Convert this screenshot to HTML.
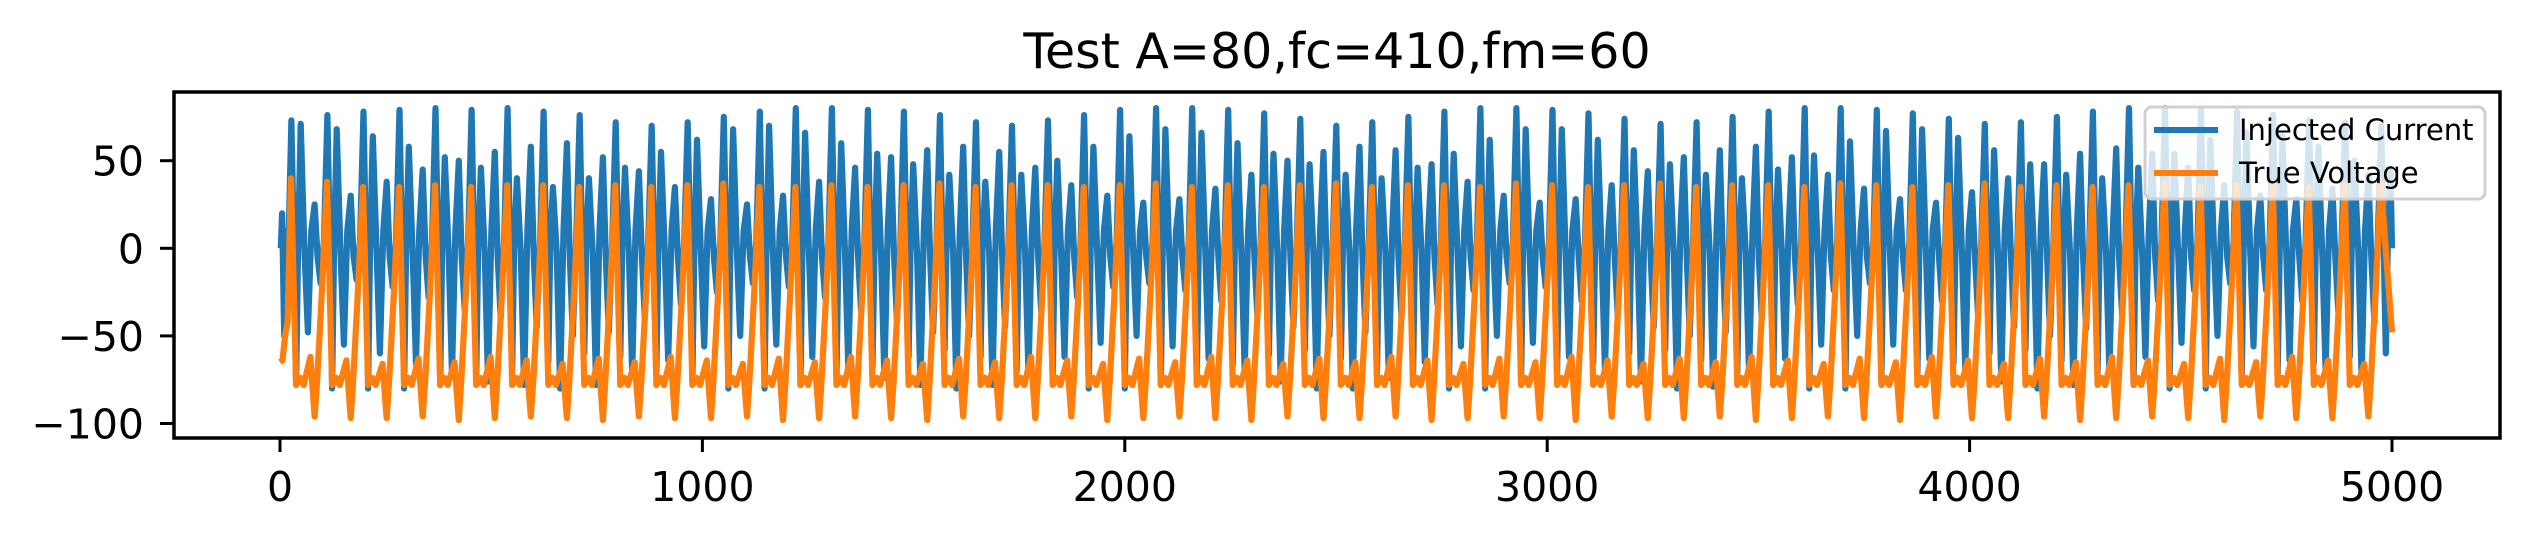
<!DOCTYPE html>
<html><head><meta charset="utf-8"><title>Test A=80,fc=410,fm=60</title>
<style>html,body{margin:0;padding:0;background:#fff;}svg{display:block;font-family:"DejaVu Sans","Liberation Sans",sans-serif;}</style>
</head><body>
<svg id="chart" width="2528" height="540" viewBox="0 0 2528 540" xmlns="http://www.w3.org/2000/svg">
<rect x="0" y="0" width="2528" height="540" fill="#fff"/>
<text x="1337" y="68" text-anchor="middle" font-size="49" fill="#000">Test A=80,fc=410,fm=60</text>
<defs><clipPath id="plotclip"><rect x="174" y="92" width="2326" height="346"/></clipPath></defs>
<g id="series" clip-path="url(#plotclip)"></g>
<rect x="174" y="92" width="2326" height="346" fill="none" stroke="#000" stroke-width="3.5"/>
<g id="xticks"></g>
<g id="yticks"></g>
<g>
<rect x="2145" y="107" width="340" height="92" rx="7" fill="#fff" fill-opacity="0.8" stroke="#d0d0d0" stroke-width="3"/>
<line x1="2154" y1="130" x2="2218" y2="130" stroke="#1f77b4" stroke-width="6"/>
<text x="2239" y="140" font-size="29" fill="#000">Injected Current</text>
<line x1="2154" y1="173" x2="2218" y2="173" stroke="#ff7f0e" stroke-width="6"/>
<text x="2239" y="183" font-size="29" fill="#000">True Voltage</text>
</g>
</svg>
<script>
const xTicks = [0, 1000, 2000, 3000, 4000, 5000];
const yTicks = [50, 0, -50, -100];
const firstPeakX = 26;
const periodLen = 85.3;
const orangePeaks = [40,38,35,35,36,35,36,36,35,36,35,36,37,35,35,36,35,36,37,35,36,36,35,36,37,35,36,35,36,37,35,36,36,35,37,36,35,36,37,35,36,36,35,37,36,35,36,37,35,36,35,36,37,35,36,37,35,36,37];
const orangeDips = [-96,-97,-97,-96,-98,-97,-96,-97,-98,-96,-97,-97,-96,-98,-97,-96,-97,-98,-96,-97,-97,-96,-98,-97,-96,-97,-98,-96,-97,-97,-96,-98,-97,-96,-97,-98,-96,-97,-97,-96,-98,-97,-96,-97,-98,-96,-97,-97,-96,-98,-97,-96,-97,-98,-96,-97,-97,-96,-97];
const orangeBumps = [-62,-64,-66,-63,-65,-62,-64,-66,-63,-65,-62,-64,-66,-63,-65,-62,-64,-66,-63,-65,-62,-64,-66,-63,-65,-62,-64,-66,-63,-65,-62,-64,-66,-63,-65,-62,-64,-66,-63,-65,-62,-64,-66,-63,-65,-62,-64,-66,-63,-65,-62,-64,-66,-63,-65,-62,-64,-66,-63];
const bluePeakA = [73,76,78,79,80,79,80,78,76,72,70,72,75,78,80,80,79,78,76,72,70,73,76,79,80,80,79,77,74,70,72,75,78,80,80,79,77,74,71,72,75,78,80,80,79,77,74,71,72,75,78,80,80,79,78,76,73,72,70];
const bluePeakB = [71,68,64,58,52,46,40,35,40,46,55,62,68,70,66,60,54,48,42,38,42,50,58,64,68,66,60,54,48,42,40,46,54,62,68,68,62,56,48,42,40,45,53,61,67,68,63,56,48,42,40,46,54,62,66,64,58,50,45];
const bluePeakC = [25,30,38,45,50,55,58,60,52,44,35,28,25,30,38,46,52,56,58,55,46,36,30,26,28,34,42,50,55,58,56,48,38,30,26,28,36,44,52,56,58,52,42,34,28,26,32,40,48,54,57,54,46,36,30,28,34,42,48];
const blueTroughA = [-78,-80,-80,-80,-78,-75,-70,-65,-60,-62,-70,-76,-80,-80,-78,-74,-68,-62,-58,-62,-70,-76,-80,-80,-78,-73,-67,-61,-58,-63,-71,-77,-80,-80,-77,-72,-66,-60,-58,-64,-72,-78,-80,-80,-77,-72,-66,-60,-58,-64,-72,-78,-80,-80,-77,-72,-66,-62,-60];
const blueTroughB = [-48,-55,-60,-66,-72,-76,-78,-80,-78,-72,-64,-56,-50,-55,-62,-68,-74,-78,-80,-78,-72,-62,-54,-50,-56,-63,-70,-76,-80,-80,-74,-65,-56,-50,-54,-62,-70,-76,-80,-79,-72,-63,-55,-50,-55,-63,-70,-76,-80,-78,-71,-62,-54,-50,-56,-64,-70,-74,-72];
const blueTroughC = [-20,-18,-22,-28,-35,-40,-45,-50,-48,-40,-32,-25,-20,-22,-28,-35,-42,-48,-50,-45,-36,-28,-22,-20,-24,-30,-38,-45,-50,-48,-40,-32,-24,-20,-22,-30,-38,-45,-50,-48,-40,-32,-24,-20,-24,-30,-38,-45,-50,-46,-38,-30,-24,-20,-24,-30,-36,-42,-40];

const NS = "http://www.w3.org/2000/svg";
function xs(u){ return 280 + u * (2392 - 280) / 5000; }
function ys(v){ return 248.3 - v * (248.3 - 160.7) / 50; }
function pick(a,i){ return a[Math.min(i, a.length-1)]; }

const oPts = [[0,-65],[6,-64],[12,-50],[18,-42]];
const bPts = [[0,0],[2,0],[5,20],[10,-50],[15,10],[20,0]];
const nP = orangePeaks.length;
for (let k = 0; k < nP; k++) {
  const t = firstPeakX + k * periodLen;
  oPts.push([t, pick(orangePeaks,k)]);
  if (k < nP - 1) {
    oPts.push([t+12,-78],[t+22,-74],[t+30,-78],[t+46,pick(orangeBumps,k)],[t+56,pick(orangeDips,k)],[t+62,-75],[t+72,-30]);
  } else {
    oPts.push([5000,-48]);
  }
  bPts.push([t+1,pick(bluePeakA,k)],[t+7,0],[t+12,pick(blueTroughA,k)],[t+17,5],
            [t+23,pick(bluePeakB,k)],[t+32,-2],[t+40,pick(blueTroughB,k)],[t+48,10],
            [t+56,pick(bluePeakC,k)],[t+63,-5],[t+70,pick(blueTroughC,k)],[t+78,4]);
}
const bClean = bPts.filter(p => p[0] <= 5000);
bClean.push([5000,0]);

const g = document.getElementById('series');
function addLine(pts, color, name){
  const pl = document.createElementNS(NS,'polyline');
  pl.setAttribute('points', pts.map(p => xs(p[0]).toFixed(1)+','+ys(p[1]).toFixed(1)).join(' '));
  pl.setAttribute('fill','none');
  pl.setAttribute('stroke',color);
  pl.setAttribute('stroke-width','6.2');
  pl.setAttribute('stroke-linejoin','round');
  
  
  g.appendChild(pl);
}
addLine(bClean, '#1f77b4', 'injected-current-line');
addLine(oPts, '#ff7f0e', 'true-voltage-line');

const gx = document.getElementById('xticks');
xTicks.forEach(v => {
  const x = xs(v);
  const ln = document.createElementNS(NS,'line');
  ln.setAttribute('x1',x); ln.setAttribute('x2',x); ln.setAttribute('y1',438); ln.setAttribute('y2',452);
  ln.setAttribute('stroke','#000'); ln.setAttribute('stroke-width','3');
  
  
  gx.appendChild(ln);
  const tx = document.createElementNS(NS,'text');
  tx.setAttribute('x',x); tx.setAttribute('y',501); tx.setAttribute('text-anchor','middle');
  tx.setAttribute('font-size','41');
  tx.textContent = String(v);
  
  
  gx.appendChild(tx);
});
const gy = document.getElementById('yticks');
yTicks.forEach(v => {
  const y = ys(v);
  const ln = document.createElementNS(NS,'line');
  ln.setAttribute('x1',160); ln.setAttribute('x2',174); ln.setAttribute('y1',y); ln.setAttribute('y2',y);
  ln.setAttribute('stroke','#000'); ln.setAttribute('stroke-width','3');
  
  
  gy.appendChild(ln);
  const tx = document.createElementNS(NS,'text');
  tx.setAttribute('x',144); tx.setAttribute('y',y+15); tx.setAttribute('text-anchor','end');
  tx.setAttribute('font-size','41');
  tx.textContent = v < 0 ? '\u2212' + Math.abs(v) : String(v);
  
  
  gy.appendChild(tx);
});
</script>
</body></html>
